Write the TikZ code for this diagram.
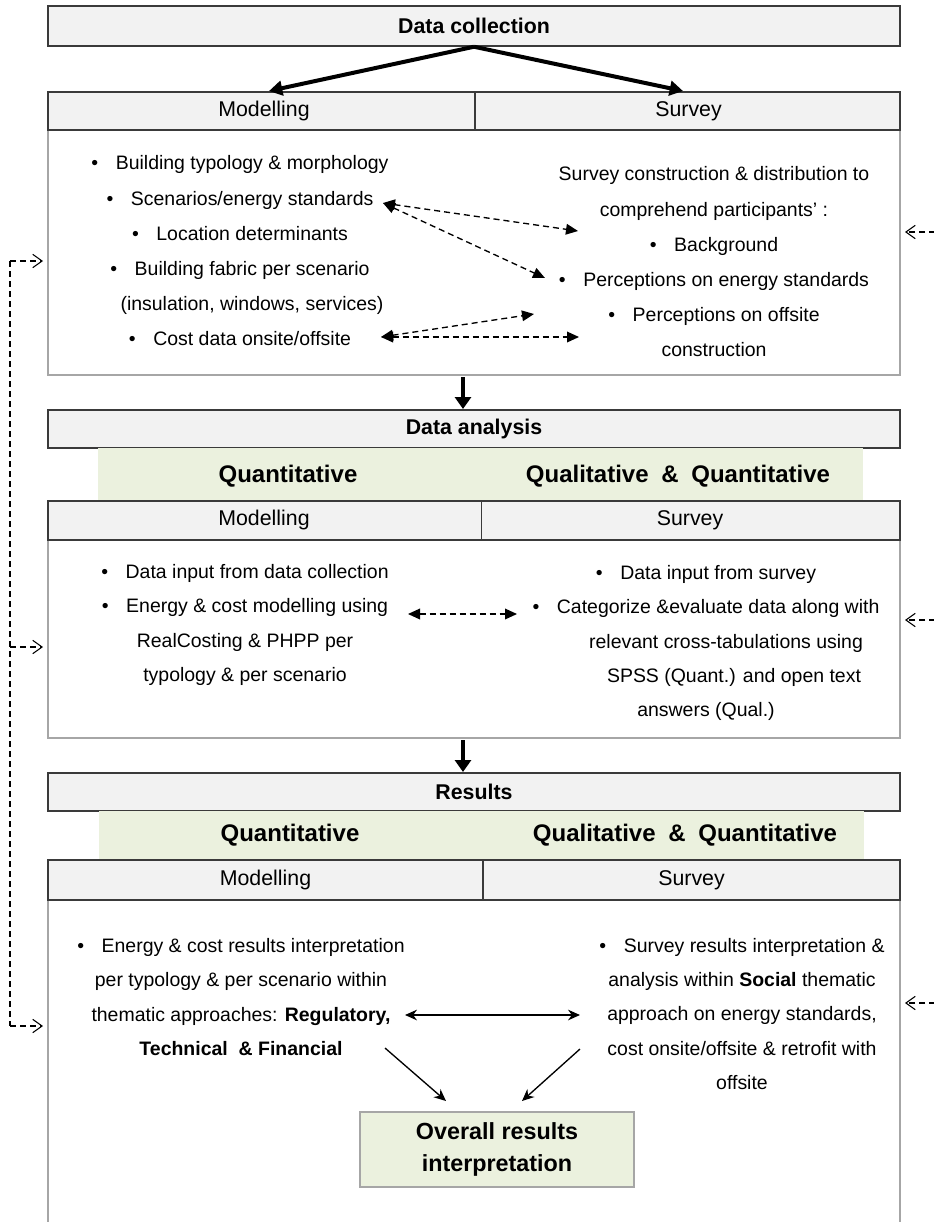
\documentclass[tikz,border=0pt]{standalone}
\usepackage{fontspec}
\setmainfont{Liberation Sans}
\usetikzlibrary{arrows.meta}

\definecolor{hdrfill}{HTML}{F2F2F2}
\definecolor{hdrline}{HTML}{3A3A3A}
\definecolor{boxline}{HTML}{A6A6A6}
\definecolor{bandgreen}{HTML}{EBF1DE}

\begin{document}
\begin{tikzpicture}[x=0.75pt,y=-0.75pt,
  hdrbox/.style={draw=hdrline, fill=hdrfill, line width=1.1pt, inner sep=0pt},
  contentbox/.style={draw=boxline, fill=white, line width=0.9pt, inner sep=0pt},
  band/.style={fill=bandgreen, draw=none, inner sep=0pt},
  resbox/.style={draw=boxline, fill=bandgreen, line width=0.9pt, inner sep=0pt, align=center,
    font=\fontsize{17.5}{24}\selectfont\bfseries},
  title/.style={font=\fontsize{16}{19}\selectfont\bfseries},
  colhead/.style={font=\fontsize{16}{19}\selectfont, text height=11.5pt, text depth=3.4pt},
  bandtext/.style={font=\fontsize{18}{21}\selectfont\bfseries},
  bodya/.style={align=center, inner sep=0pt, font=\fontsize{14.6}{26.4}\selectfont},
  bodyb/.style={align=center, inner sep=0pt, font=\fontsize{14.6}{25.6}\selectfont},
  bigarrow/.style={line width=3pt, -{Triangle[length=10pt,width=11pt]}},
  downarrow/.style={line width=3.6pt, -{Triangle[length=9pt,width=12pt]}},
  dasharrow/.style={line width=1pt, dash pattern=on 4.5pt off 3pt,
    {Triangle[length=9pt,width=8pt]}-{Triangle[length=9pt,width=8pt]}},
  solidarrow/.style={line width=1pt, -{Stealth[length=9pt,width=8pt]}},
  feedback/.style={line width=0.8pt, dash pattern=on 4.5pt off 3pt},
  feedtip/.style={feedback, -{Straight Barb[length=7pt,width=10pt]}}
]
\useasboundingbox (0,0) rectangle (933,1222);

% ---------- Data collection ----------
\node[contentbox, minimum width=639pt, minimum height=183.75pt] (cb1) at (474,252.5) {};
\node[hdrbox, minimum width=639pt, minimum height=30pt] (dc) at (474,26) {};
\node[title] at (dc) {Data collection};
\node[hdrbox, minimum width=320.25pt, minimum height=28.5pt] (m1) at (261.5,111) {};
\node[hdrbox, minimum width=318.75pt, minimum height=28.5pt] (s1) at (687.5,111) {};
\node[colhead] at (264,111) {Modelling};
\node[colhead] at (688.5,111) {Survey};

\node[bodya] (l1) at (240,251) {%
  •\hspace{0.9em}Building typology \& morphology\\
  •\hspace{0.9em}Scenarios/energy standards\\
  •\hspace{0.9em}Location determinants\\
  •\hspace{0.9em}Building fabric per scenario\\
  \hspace*{18pt}(insulation, windows, services)\\
  •\hspace{0.9em}Cost data onsite/offsite};
\node[bodya] (r1) at (714,262) {%
  Survey construction \& distribution to\\
  comprehend participants’ :\\
  •\hspace{0.9em}Background\\
  •\hspace{0.9em}Perceptions on energy standards\\
  •\hspace{0.9em}Perceptions on offsite\\
  construction};

\coordinate (a1) at (383,203);
\coordinate (a2) at (578,231);
\coordinate (a3) at (545,278);
\coordinate (b1) at (381,337);
\coordinate (b2) at (534,314);
\coordinate (b3) at (579,337);
\draw[dasharrow] (a1) -- (a2);
\draw[dasharrow] (a1) -- (a3);
\draw[dasharrow] (b1) -- (b2);
\draw[dasharrow] (b1) -- (b3);

\coordinate (m1t) at (269,91);
\coordinate (s1t) at (683,91);
\draw[bigarrow] (dc.south) -- (m1t);
\draw[bigarrow] (dc.south) -- (s1t);

% ---------- Data analysis ----------
\coordinate (d1s) at (463,377);
\coordinate (d1e) at (463,409);
\draw[downarrow] (d1s) -- (d1e);

\node[contentbox, minimum width=639pt, minimum height=148.5pt] (cb2) at (474,639) {};
\node[hdrbox, minimum width=639pt, minimum height=28.5pt] (da) at (474,429) {};
\node[title] at (da) {Data analysis};
\node[band, minimum width=573.75pt, minimum height=39.75pt] (g2) at (480.5,474.5) {};
\node[bandtext] at (288,476) {Quantitative};
\node[bandtext] at (678,476) {Qualitative\hspace{0.25em} \&\hspace{0.25em} Quantitative};
\node[hdrbox, minimum width=325pt, minimum height=29.25pt] (m2) at (264.7,520.5) {};
\node[hdrbox, minimum width=314pt, minimum height=29.25pt] (s2) at (690.7,520.5) {};
\node[colhead] at (264,520.5) {Modelling};
\node[colhead] at (690,520.5) {Survey};

\node[bodyb] (l2) at (245,625) {%
  •\hspace{0.9em}Data input from data collection\\
  •\hspace{0.9em}Energy \& cost modelling using\\
  RealCosting \& PHPP per\\
  typology \& per scenario};
\node[bodyb] (r2) at (706,643) {%
  •\hspace{0.9em}Data input from survey\\
  •\hspace{0.9em}Categorize \&evaluate data along with\\
  \hspace*{30pt}relevant cross-tabulations using\\
  \hspace*{42pt}SPSS (Quant.) and open text\\
  answers (Qual.)};

\coordinate (c1) at (408,614);
\coordinate (c2) at (517,614);
\draw[dasharrow] (c1) -- (c2);

% ---------- Results ----------
\coordinate (d2s) at (463,740);
\coordinate (d2e) at (463,772);
\draw[downarrow] (d2s) -- (d2e);

\node[contentbox, minimum width=639pt, minimum height=262.5pt] (cb3) at (474,1075) {};
\node[hdrbox, minimum width=639pt, minimum height=28.5pt] (rs) at (474,792) {};
\node[title] at (rs) {Results};
\node[band, minimum width=573.75pt, minimum height=36.75pt] (g3) at (481.5,835.5) {};
\node[bandtext] at (290,835) {Quantitative};
\node[bandtext] at (685,835) {Qualitative\hspace{0.25em} \&\hspace{0.25em} Quantitative};
\node[hdrbox, minimum width=326.25pt, minimum height=30pt] (m3) at (265.5,880) {};
\node[hdrbox, minimum width=312.75pt, minimum height=30pt] (s3) at (691.5,880) {};
\node[colhead] at (m3) {Modelling};
\node[colhead] at (s3) {Survey};

\node[bodyb] (l3) at (241,997) {%
  •\hspace{0.9em}Energy \& cost results interpretation\\
  per typology \& per scenario within\\
  thematic approaches: \textbf{Regulatory,}\\
  \textbf{Technical \ \& Financial}};
\node[bodyb] (r3) at (742,1014) {%
  •\hspace{0.9em}Survey results interpretation \&\\
  analysis within \textbf{Social} thematic\\
  approach on energy standards,\\
  cost onsite/offsite \& retrofit with\\
  offsite};

\node[resbox, minimum width=205.5pt, minimum height=56.25pt] (ov) at (497,1149.5)
  {Overall results\\interpretation};

\coordinate (e0) at (405,1015);
\coordinate (e9) at (580,1015);
\draw[line width=1pt, {Stealth[length=9pt,width=8pt]}-{Stealth[length=9pt,width=8pt]}] (e0) -- (e9);
\coordinate (f1) at (385,1048);
\coordinate (f2) at (446,1101);
\coordinate (h1) at (580,1049);
\coordinate (h2) at (522,1101);
\draw[solidarrow] (f1) -- (f2);
\draw[solidarrow] (h1) -- (h2);

% ---------- feedback loops ----------
\coordinate (fa) at (10,261);
\coordinate (fb) at (10,647);
\coordinate (fc) at (10,1026);
\coordinate (faE) at (43,261);
\coordinate (fbE) at (43,647);
\coordinate (fcE) at (43,1026);
\draw[feedback] (fa) -- (fc);
\draw[feedtip] (fa) -- (faE);
\draw[feedtip] (fb) -- (fbE);
\draw[feedtip] (fc) -- (fcE);

\coordinate (ra) at (945,232);
\coordinate (rb) at (945,620);
\coordinate (rc) at (945,1003);
\coordinate (raE) at (905,232);
\coordinate (rbE) at (905,620);
\coordinate (rcE) at (905,1003);
\draw[feedtip] (ra) -- (raE);
\draw[feedtip] (rb) -- (rbE);
\draw[feedtip] (rc) -- (rcE);
\end{tikzpicture}
\end{document}
